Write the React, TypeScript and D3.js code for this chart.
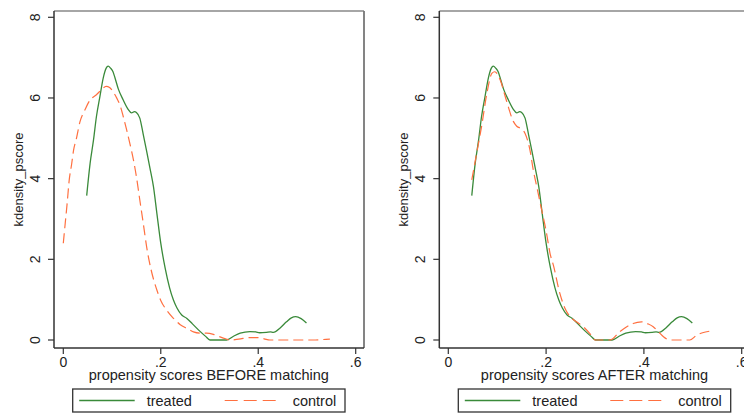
import React from "react";
import * as d3 from "d3";

const treatedX = [0.048, 0.055, 0.062, 0.068, 0.075, 0.082, 0.088, 0.092, 0.097, 0.102, 0.106, 0.113, 0.123, 0.133, 0.140, 0.146, 0.150, 0.157, 0.164, 0.171, 0.178, 0.185, 0.192, 0.200, 0.209, 0.218, 0.226, 0.233, 0.243, 0.253, 0.265, 0.280, 0.292, 0.301, 0.335, 0.350, 0.363, 0.383, 0.395, 0.403, 0.417, 0.425, 0.431, 0.445, 0.458, 0.468, 0.477, 0.488, 0.499];
const treatedY = [3.58, 4.38, 4.96, 5.54, 6.03, 6.5, 6.74, 6.79, 6.74, 6.65, 6.5, 6.22, 5.95, 5.72, 5.63, 5.66, 5.64, 5.5, 5.1, 4.68, 4.25, 3.8, 3.14, 2.4, 1.78, 1.3, 0.99, 0.8, 0.62, 0.54, 0.4, 0.22, 0.09, 0.0, 0.0, 0.1, 0.17, 0.21, 0.2, 0.18, 0.19, 0.2, 0.19, 0.3, 0.45, 0.55, 0.58, 0.53, 0.42];

const controlBeforeX = [0.0, 0.004, 0.008, 0.012, 0.017, 0.021, 0.027, 0.034, 0.045, 0.055, 0.068, 0.078, 0.088, 0.095, 0.104, 0.110, 0.117, 0.123, 0.130, 0.137, 0.144, 0.150, 0.157, 0.164, 0.171, 0.180, 0.192, 0.200, 0.212, 0.225, 0.240, 0.255, 0.267, 0.281, 0.294, 0.308, 0.321, 0.333, 0.342, 0.360, 0.383, 0.397, 0.412, 0.424, 0.513, 0.530, 0.547];
const controlBeforeY = [2.4, 2.9, 3.4, 3.95, 4.35, 4.7, 5.0, 5.4, 5.72, 5.95, 6.08, 6.2, 6.29, 6.26, 6.12, 5.99, 5.8, 5.54, 5.21, 4.85, 4.46, 4.05, 3.47, 2.9, 2.31, 1.75, 1.24, 0.98, 0.74, 0.55, 0.38, 0.28, 0.2, 0.17, 0.17, 0.14, 0.08, 0.03, 0.0, 0.02, 0.06, 0.06, 0.03, 0.0, 0.0, 0.01, 0.02];

const controlAfterX = [0.048, 0.058, 0.068, 0.079, 0.089, 0.095, 0.106, 0.119, 0.133, 0.140, 0.147, 0.157, 0.167, 0.174, 0.181, 0.188, 0.201, 0.208, 0.215, 0.228, 0.238, 0.249, 0.262, 0.276, 0.290, 0.300, 0.331, 0.351, 0.365, 0.378, 0.395, 0.408, 0.419, 0.430, 0.440, 0.453, 0.494, 0.508, 0.520, 0.535];
const controlAfterY = [3.97, 4.63, 5.29, 6.12, 6.61, 6.65, 6.45, 5.93, 5.42, 5.3, 5.25, 5.12, 4.71, 4.2, 3.8, 3.39, 2.64, 2.15, 1.85, 1.16, 0.8, 0.58, 0.45, 0.33, 0.15, 0.0, 0.0, 0.21, 0.33, 0.41, 0.45, 0.4, 0.33, 0.2, 0.08, 0.0, 0.0, 0.12, 0.18, 0.22];

const xTicks = [0, 0.2, 0.4, 0.6];
const xTickLabels = ["0", ".2", ".4", ".6"];
const yTicks = [0, 2, 4, 6, 8];
const yTickLabels = ["0", "2", "4", "6", "8"];
const seriesNames = ["treated", "control"];
const panelTitles = ["propensity scores BEFORE matching", "propensity scores AFTER matching"];
const yTitle = "kdensity_pscore";

const GREEN = "#3a8a3a";
const ORANGE = "#ff7040";
const FONT = "Liberation Sans, Arial, sans-serif";

type PanelProps = {
  ox: number;
  frameRight: number;
  x0: number;
  x6: number;
  ctrlX: number[];
  ctrlY: number[];
  title: string;
  legendLeft: number;
  legendRight: number;
};

function Panel({ ox, frameRight, x0, x6, ctrlX, ctrlY, title, legendLeft, legendRight }: PanelProps) {
  const x = d3.scaleLinear().domain([0, 0.6]).range([x0, x6]);
  const y = d3.scaleLinear().domain([0, 8]).range([340, 17.3]);
  const top = 11;
  const bottom = 348;
  const line = d3
    .line<[number, number]>()
    .x((d) => x(d[0]))
    .y((d) => y(d[1]))
    .curve(d3.curveMonotoneX);
  const tData = treatedX.map((v, i) => [v, treatedY[i]] as [number, number]);
  const cData = ctrlX.map((v, i) => [v, ctrlY[i]] as [number, number]);
  const midY = (top + bottom) / 2;
  const lw = legendRight - legendLeft;
  return (
    <g>
      {/* frame */}
      <line x1={ox} x2={frameRight} y1={top} y2={top} stroke="#888" strokeWidth={1.3} />
      <line x1={frameRight} x2={frameRight} y1={top} y2={bottom} stroke="#777" strokeWidth={1.8} />
      {/* curves */}
      <path d={line(tData) || ""} fill="none" stroke={GREEN} strokeWidth={1.3} />
      <path d={line(cData) || ""} fill="none" stroke={ORANGE} strokeWidth={1.2} strokeDasharray="10,5" />
      {/* axes */}
      <line x1={ox} x2={ox} y1={top} y2={bottom} stroke="#333" strokeWidth={1.5} />
      <line x1={ox} x2={frameRight} y1={bottom} y2={bottom} stroke="#333" strokeWidth={1.5} />
      {yTicks.map((t, i) => (
        <g key={"y" + t}>
          <line x1={ox - 6} x2={ox} y1={y(t)} y2={y(t)} stroke="#333" strokeWidth={1.2} />
          <text
            transform={`translate(${ox - 14},${y(t)}) rotate(-90)`}
            textAnchor="middle"
            fontFamily={FONT}
            fontSize={14}
            fill="#222"
          >
            {yTickLabels[i]}
          </text>
        </g>
      ))}
      {xTicks.map((t, i) => (
        <g key={"x" + t}>
          <line x1={x(t)} x2={x(t)} y1={bottom} y2={bottom + 6} stroke="#333" strokeWidth={1.2} />
          <text x={x(t)} y={367} textAnchor="middle" fontFamily={FONT} fontSize={14} fill="#222">
            {xTickLabels[i]}
          </text>
        </g>
      ))}
      <text
        transform={`translate(${ox - 31},${midY}) rotate(-90)`}
        textAnchor="middle"
        fontFamily={FONT}
        fontSize={13}
        fill="#222"
      >
        {yTitle}
      </text>
      <text x={(legendLeft + legendRight) / 2 + 0} y={380} textAnchor="middle" fontFamily={FONT} fontSize={14.5} fill="#222">
        {title}
      </text>
      {/* legend */}
      <rect x={legendLeft} y={389} width={lw} height={23} fill="white" stroke="#333" strokeWidth={1.3} />
      <line x1={legendLeft + 6.5} x2={legendLeft + 62} y1={400.5} y2={400.5} stroke={GREEN} strokeWidth={1.3} />
      <text x={legendLeft + 74} y={405.5} fontFamily={FONT} fontSize={14.5} fill="#222">
        {seriesNames[0]}
      </text>
      <line
        x1={legendLeft + 152}
        x2={legendLeft + 208}
        y1={400.5}
        y2={400.5}
        stroke={ORANGE}
        strokeWidth={1.2}
        strokeDasharray="13,6"
      />
      <text x={legendLeft + 220} y={405.5} fontFamily={FONT} fontSize={14.5} fill="#222">
        {seriesNames[1]}
      </text>
    </g>
  );
}

export default function App() {
  return (
    <svg
      width={744}
      height={414}
      style={{ position: "absolute", left: 0, top: 0, background: "white" }}
    >
      <rect x={0} y={0} width={744} height={414} fill="white" />
      <Panel
        ox={54}
        frameRight={364}
        x0={63.3}
        x6={355.7}
        ctrlX={controlBeforeX}
        ctrlY={controlBeforeY}
        title={panelTitles[0]}
        legendLeft={72.7}
        legendRight={345}
      />
      <Panel
        ox={439.3}
        frameRight={750}
        x0={448.3}
        x6={741.7}
        ctrlX={controlAfterX}
        ctrlY={controlAfterY}
        title={panelTitles[1]}
        legendLeft={458.3}
        legendRight={730.7}
      />
    </svg>
  );
}
